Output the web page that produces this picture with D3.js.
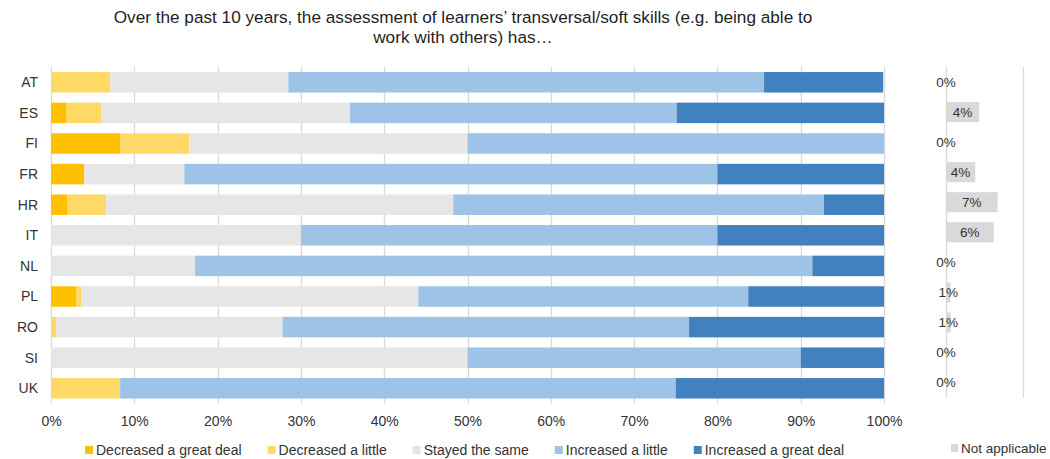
<!DOCTYPE html>
<html>
<head>
<meta charset="utf-8">
<script src="https://cdn.jsdelivr.net/npm/d3@7"></script>
<style>
  html, body { margin: 0; padding: 0; background: #fff; }
  svg { display: block; }
  text { font-family: "Liberation Sans", Arial, sans-serif; }
</style>
</head>
<body>
<svg id="chart" width="1050" height="459"></svg>
<script>
// ---- Data ----
const titleLines = [
  "Over the past 10 years, the assessment of learners\u2019 transversal/soft skills (e.g. being able to",
  "work with others) has\u2026"
];
const countries = ["AT", "ES", "FI", "FR", "HR", "IT", "NL", "PL", "RO", "SI", "UK"];
const seriesNames = ["Decreased a great deal", "Decreased a little", "Stayed the same", "Increased a little", "Increased a great deal"];
const decreasedGreat  = [0,    1.8,  8.3,  4.0,  2.0,  0,    0,    3.0,  0,    0,    0];
const decreasedLittle = [7.1,  4.2,  8.3,  0,    4.6,  0,    0,    0.6,  0.6,  0,    8.3];
const stayedSame      = [21.4, 29.9, 33.4, 12.0, 41.7, 30.0, 17.3, 40.5, 27.2, 50.0, 0];
const increasedLittle = [57.1, 39.2, 50.0, 64.0, 44.5, 50.0, 74.1, 39.6, 48.8, 40.0, 66.7];
const increasedGreat  = [14.3, 24.9, 0,    20.0, 7.2,  20.0, 8.6,  16.3, 23.4, 10.0, 25.0];
const notApplicableName = "Not applicable";
const notApplicable   = [0,    4.3,  0,    3.8,  6.7,  6.2,  0,    0.6,  0.6,  0,    0];
const xTicks = [0, 10, 20, 30, 40, 50, 60, 70, 80, 90, 100];

// ---- Styles ----
const colors = ["#FFC000", "#FFD966", "#E6E6E6", "#9DC3E6", "#4181BF"];
const naColor = "#D9D9D9";
const gridColor = "#D9D9D9";
const textColor = "#333333";

const svg = d3.select("#chart");

// table for stacking
const seriesArrays = [decreasedGreat, decreasedLittle, stayedSame, increasedLittle, increasedGreat];
const table = countries.map((c, i) => {
  const row = { country: c };
  seriesNames.forEach((s, k) => row[s] = seriesArrays[k][i]);
  return row;
});
const stacked = d3.stack().keys(seriesNames)(table);

// ---- Scales ----
const plotTop = 67, plotBottom = 403.6;
const x = d3.scaleLinear().domain([0, 100]).range([51, 884]);
const y = d3.scaleBand().domain(countries).range([plotTop, plotBottom]).paddingInner(0.33).paddingOuter(0.165);

const x2 = d3.scaleLinear().domain([0, 10]).range([946, 1023]);
const y2 = d3.scaleBand().domain(countries).range([plotTop, 397.5]).paddingInner(0.33).paddingOuter(0.165);

// ---- Title ----
svg.append("g").selectAll("text").data(titleLines).join("text")
  .attr("x", 463)
  .attr("y", (d, i) => 22.7 + i * 20)
  .attr("text-anchor", "middle")
  .attr("font-size", "17.2px")
  .attr("fill", "#1f1f1f")
  .text(d => d);

// ---- Main gridlines ----
svg.append("g").selectAll("line").data(xTicks).join("line")
  .attr("x1", d => Math.round(x(d)) + 0.5).attr("x2", d => Math.round(x(d)) + 0.5)
  .attr("y1", plotTop).attr("y2", plotBottom)
  .attr("stroke", gridColor).attr("stroke-width", 1.3);

// ---- Bars ----
svg.append("g").selectAll("g").data(stacked).join("g")
  .attr("fill", (d, i) => colors[i])
  .selectAll("rect").data(d => d).join("rect")
  .attr("x", d => x(d[0]))
  .attr("y", d => y(d.data.country))
  .attr("width", d => Math.max(0, x(d[1]) - x(d[0])))
  .attr("height", y.bandwidth());

// ---- Country labels ----
svg.append("g").selectAll("text").data(countries).join("text")
  .attr("x", 38)
  .attr("y", d => y(d) + y.bandwidth() / 2)
  .attr("dy", "0.35em")
  .attr("text-anchor", "end")
  .attr("font-size", "14px")
  .attr("fill", textColor)
  .text(d => d);

// ---- X axis labels ----
const xAxis = d3.axisBottom(x).tickValues(xTicks).tickFormat(d => d + "%").tickSize(0).tickPadding(0);
const gx = svg.append("g").attr("transform", `translate(0, 416)`).call(xAxis);
gx.select(".domain").remove();
gx.selectAll("text").attr("font-size", "14px").attr("fill", textColor)
  .attr("font-family", "\"Liberation Sans\", Arial, sans-serif").attr("dy", "0.71em");

// ---- Right panel: Not applicable ----
svg.append("g").selectAll("line").data([0, 10]).join("line")
  .attr("x1", d => Math.round(x2(d)) + 0.5).attr("x2", d => Math.round(x2(d)) + 0.5)
  .attr("y1", plotTop).attr("y2", 397.5)
  .attr("stroke", gridColor).attr("stroke-width", 1.3);

svg.append("g").selectAll("rect").data(notApplicable).join("rect")
  .attr("x", x2(0))
  .attr("y", (d, i) => y2(countries[i]))
  .attr("width", d => x2(d) - x2(0))
  .attr("height", y2.bandwidth())
  .attr("fill", naColor);

svg.append("g").selectAll("text").data(notApplicable).join("text")
  .attr("x", d => (x2(0) + x2(d)) / 2)
  .attr("y", (d, i) => y2(countries[i]) + y2.bandwidth() / 2)
  .attr("dy", "0.35em")
  .attr("text-anchor", "middle")
  .attr("font-size", "13.5px")
  .attr("fill", textColor)
  .text(d => Math.round(d) + "%");

// ---- Legend ----
const legend = svg.append("g");
let lx = 85;
seriesNames.forEach((name, i) => {
  legend.append("rect").attr("x", lx).attr("y", 446).attr("width", 8).attr("height", 8).attr("fill", colors[i]);
  const t = legend.append("text").attr("x", lx + 11).attr("y", 450).attr("dy", "0.35em")
    .attr("font-size", "14px").attr("fill", textColor).text(name);
  lx += 11 + t.node().getComputedTextLength() + 26;
});
legend.append("rect").attr("x", 951).attr("y", 444).attr("width", 7).attr("height", 8).attr("fill", naColor);
legend.append("text").attr("x", 961).attr("y", 448).attr("dy", "0.35em")
  .attr("font-size", "13.5px").attr("fill", textColor).text(notApplicableName);
</script>
</body>
</html>
